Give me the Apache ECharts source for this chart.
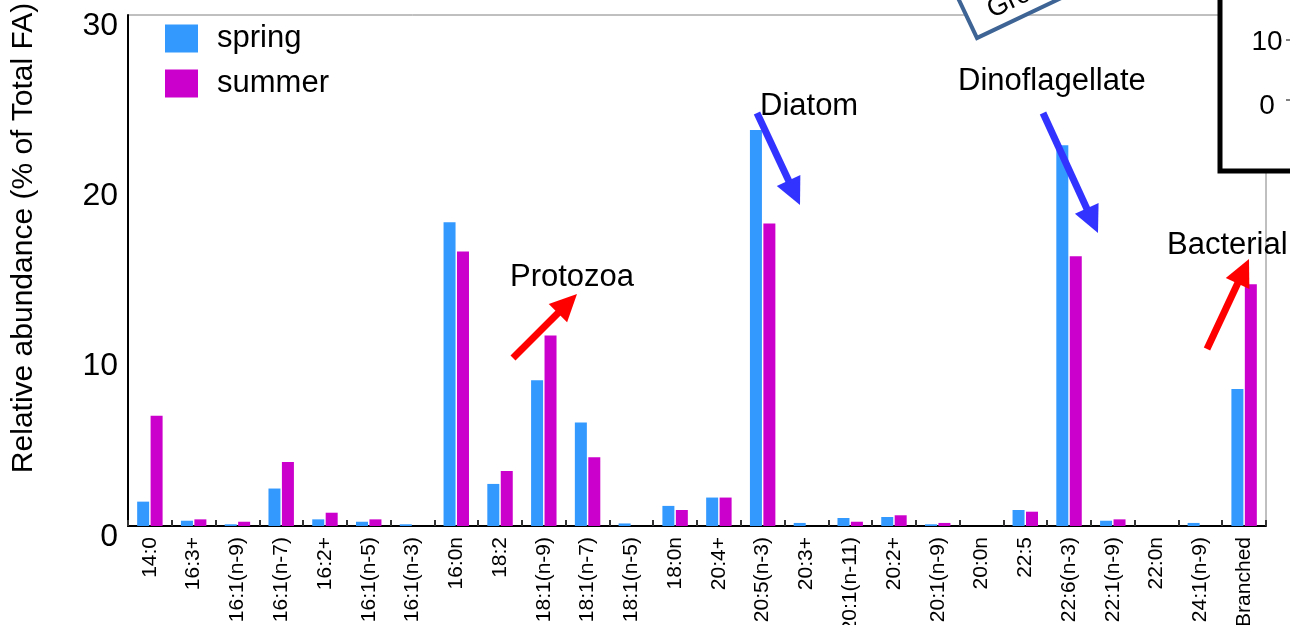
<!DOCTYPE html>
<html>
<head>
<meta charset="utf-8">
<script src="https://cdn.jsdelivr.net/npm/echarts@6/dist/echarts.min.js"></script>
<style>
  html, body { margin: 0; padding: 0; background: #fff; }
  #chart { width: 1290px; height: 625px; }
</style>
</head>
<body>
<div id="chart"></div>
<script>
// Fatty acid classes (x axis)
const categories = ['14:0', '16:3+', '16:1(n-9)', '16:1(n-7)', '16:2+', '16:1(n-5)', '16:1(n-3)',
  '16:0n', '18:2', '18:1(n-9)', '18:1(n-7)', '18:1(n-5)', '18:0n', '20:4+', '20:5(n-3)', '20:3+',
  '20:1(n-11)', '20:2+', '20:1(n-9)', '20:0n', '22:5', '22:6(n-3)', '22:1(n-9)', '22:0n',
  '24:1(n-9)', 'Branched'];

// Relative abundance, % of total fatty acids
const spring = [1.43, 0.31, 0.10, 2.20, 0.39, 0.25, 0.10, 17.84, 2.47, 8.55, 6.08, 0.15, 1.18, 1.67,
  23.25, 0.18, 0.47, 0.53, 0.10, 0, 0.94, 22.35, 0.31, 0, 0.18, 8.04];
const summer = [6.47, 0.39, 0.25, 3.76, 0.78, 0.39, 0, 16.12, 3.23, 11.18, 4.04, 0, 0.94, 1.67,
  17.76, 0, 0.25, 0.63, 0.18, 0, 0.84, 15.84, 0.39, 0, 0, 14.20];

const seriesNames = ['spring', 'summer'];
const yTicks = { min: 0, max: 30, interval: 10 };

const FONT = "'Liberation Sans', Arial, sans-serif";
const BLUE = '#3399ff';
const MAGENTA = '#cc00cc';

const chart = echarts.init(document.getElementById('chart'), null, { renderer: 'canvas' });

// Arrow: shaft plus triangular head, from (x1,y1) to tip (x2,y2)
function arrow(x1, y1, x2, y2, color) {
  const dx = x2 - x1, dy = y2 - y1;
  const len = Math.sqrt(dx * dx + dy * dy);
  const ux = dx / len, uy = dy / len;
  const headLen = 27, headHalf = 13;
  const bx = x2 - ux * headLen, by = y2 - uy * headLen;
  return [
    { type: 'line', shape: { x1: x1, y1: y1, x2: bx + ux * 2, y2: by + uy * 2 },
      style: { stroke: color, lineWidth: 7 }, z: 100 },
    { type: 'polygon', shape: { points: [[x2, y2], [bx - uy * headHalf, by + ux * headHalf], [bx + uy * headHalf, by - ux * headHalf]] },
      style: { fill: color }, z: 100 }
  ];
}

function label(text, x, y, size) {
  return { type: 'text', x: x, y: y, z: 100,
    style: { text: text, font: size + 'px ' + FONT, fill: '#000', verticalAlign: 'middle', align: 'left' } };
}

const boxAngle = 25.4 * Math.PI / 180;

const option = {
  animation: false,
  backgroundColor: '#fff',
  grid: { left: 128, right: 24, top: 15, bottom: 99, show: true, borderColor: '#808080', borderWidth: 1,
    containLabel: false, outerBoundsMode: 'none' },
  legend: {
    data: seriesNames,
    orient: 'vertical', left: 165, top: 23, padding: 0,
    itemWidth: 33, itemHeight: 28, itemGap: 14,
    icon: 'rect',
    textStyle: { fontSize: 31, fontFamily: FONT, color: '#000', padding: [0, 0, 0, 14] }
  },
  xAxis: {
    type: 'category',
    data: categories,
    axisLine: { lineStyle: { color: '#000', width: 2 } },
    axisTick: { show: true, inside: true, length: 6, interval: 0, alignWithLabel: false, lineStyle: { color: '#333', width: 2 } },
    axisLabel: { rotate: 90, interval: 0, margin: 11, fontSize: 21, fontFamily: FONT, color: '#000', hideOverlap: false },
    splitLine: { show: false }
  },
  yAxis: {
    type: 'value',
    min: yTicks.min, max: yTicks.max, interval: yTicks.interval,
    axisLine: { show: true, lineStyle: { color: '#000', width: 2 } },
    axisTick: { show: false },
    splitLine: { show: false },
    axisLabel: { fontSize: 32, fontFamily: FONT, color: '#000', margin: 10, verticalAlign: 'top', lineHeight: 22 }
  },
  series: [
    { name: seriesNames[0], type: 'bar', data: spring, barWidth: 12, barGap: '12%',
      itemStyle: { color: BLUE } },
    { name: seriesNames[1], type: 'bar', data: summer, barWidth: 12,
      itemStyle: { color: MAGENTA } }
  ],
  graphic: [
    // y-axis title
    { type: 'text', x: 24, y: 238, rotation: Math.PI / 2, z: 100,
      style: { text: 'Relative abundance (% of Total FA)', font: '30px ' + FONT, fill: '#000', align: 'center', verticalAlign: 'middle' } },
    // food-source annotations
    label('Protozoa', 510, 277, 31),
    ...arrow(513, 358, 577, 294, '#ff0000'),
    label('Diatom', 760, 106, 31),
    ...arrow(757, 113, 800, 205, '#3333ff'),
    label('Dinoflagellate', 958, 81, 31),
    ...arrow(1043, 113, 1098, 233, '#3333ff'),
    label('Bacterial', 1167, 245, 31),
    ...arrow(1207, 349, 1249, 259, '#ff0000'),
    // tilted label box at the top edge
    { type: 'group', x: 977, y: 38, rotation: boxAngle, z: 110, children: [
      { type: 'rect', shape: { x: 0, y: -56, width: 190, height: 56 },
        style: { fill: '#fff', stroke: '#3d6494', lineWidth: 4 } },
      { type: 'text', x: 22, y: -19,
        style: { text: 'Group', font: '27px ' + FONT, fill: '#000', verticalAlign: 'middle', align: 'left' } }
    ] },
    // inset panel in the top-right corner
    { type: 'group', z: 120, children: [
      { type: 'rect', shape: { x: 1220, y: -20, width: 100, height: 191 },
        style: { fill: '#fff', stroke: '#000', lineWidth: 5 } },
      { type: 'text', x: 1267, y: 42,
        style: { text: '10', font: '28px ' + FONT, fill: '#000', align: 'center', verticalAlign: 'middle' } },
      { type: 'text', x: 1267, y: 106,
        style: { text: '0', font: '28px ' + FONT, fill: '#000', align: 'center', verticalAlign: 'middle' } },
      { type: 'line', shape: { x1: 1286, y1: 40, x2: 1290, y2: 40 }, style: { stroke: '#000', lineWidth: 1 } },
      { type: 'line', shape: { x1: 1286, y1: 100, x2: 1290, y2: 100 }, style: { stroke: '#000', lineWidth: 1 } }
    ] }
  ]
};

chart.setOption(option);
</script>
</body>
</html>
